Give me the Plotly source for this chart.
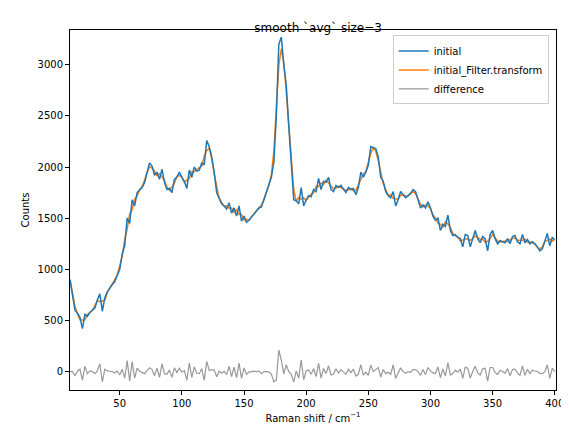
import numpy as np
import plotly.graph_objects as go

x = list(range(10, 401, 2))
initial = [900,750,600,570,530,420,560,540,580,600,620,700,760,590,720,780,820,850,880,950,
1000,1150,1230,1500,1450,1680,1620,1750,1780,1800,1850,1960,2040,2010,1920,1950,1880,1980,1850,1780,
1790,1750,1880,1900,1950,1900,1860,1790,1970,1900,2000,1960,1970,2040,2020,2260,2200,2100,1950,1750,
1700,1640,1620,1590,1650,1550,1600,1520,1620,1470,1520,1460,1480,1510,1550,1570,1600,1610,1680,1750,
1820,1900,2050,2500,3200,3270,3000,2800,2400,2000,1680,1670,1640,1800,1620,1680,1720,1710,1780,1760,
1890,1780,1860,1850,1900,1780,1760,1820,1800,1820,1780,1750,1800,1780,1790,1730,1800,1950,1900,1950,
2020,2200,2190,2180,2100,1900,1860,1760,1720,1700,1760,1620,1680,1760,1730,1700,1720,1740,1780,1760,
1680,1600,1630,1600,1660,1600,1520,1480,1500,1380,1440,1420,1530,1380,1330,1340,1310,1300,1220,1340,
1330,1220,1300,1380,1300,1260,1320,1300,1180,1340,1380,1300,1250,1280,1270,1260,1300,1250,1320,1330,
1270,1250,1340,1260,1290,1250,1270,1250,1220,1180,1200,1270,1350,1230,1310,1290]

a = np.array(initial, dtype=float)
sm = a.copy()
sm[1:-1] = (a[:-2] + a[1:-1] + a[2:]) / 3
diff = a - sm

fig = go.Figure()
fig.add_trace(go.Scatter(x=x, y=sm, mode="lines", name="initial_Filter.transform", legendrank=2,
                         line=dict(color="#ff7f0e", width=1.5)))
fig.add_trace(go.Scatter(x=x, y=initial, mode="lines", name="initial", legendrank=1,
                         line=dict(color="#1f77b4", width=1.5)))
fig.add_trace(go.Scatter(x=x, y=diff, mode="lines", name="difference", legendrank=3,
                         line=dict(color="#999999", width=1.2)))

ax = dict(showgrid=False, zeroline=False, showline=True, linecolor="black", mirror=True,
          ticks="outside", ticklen=4, tickcolor="black", tickfont=dict(size=10, color="black"))
fig.update_layout(
    width=569, height=440, plot_bgcolor="white", paper_bgcolor="white",
    margin=dict(l=62, r=21, t=22, b=58),
    font=dict(family="DejaVu Sans", color="black"),
    title=dict(text="smooth `avg` size=3", x=0.545, xanchor="center", y=0.965, font=dict(size=12)),
    xaxis=dict(ax, range=[10, 401], tickvals=[50,100,150,200,250,300,350,400],
               title=dict(text="Raman shift / cm<sup>−1</sup>", font=dict(size=10), standoff=6)),
    yaxis=dict(ax, range=[-180, 3340], tickvals=[0,500,1000,1500,2000,2500,3000],
               title=dict(text="Counts", font=dict(size=10), standoff=6)),
    legend=dict(x=0.985, y=0.985, xanchor="right", yanchor="top", bordercolor="#cccccc",
                borderwidth=1, bgcolor="rgba(255,255,255,0.8)", font=dict(size=10),
                tracegroupgap=0),
)
fig.write_html("out.html")
